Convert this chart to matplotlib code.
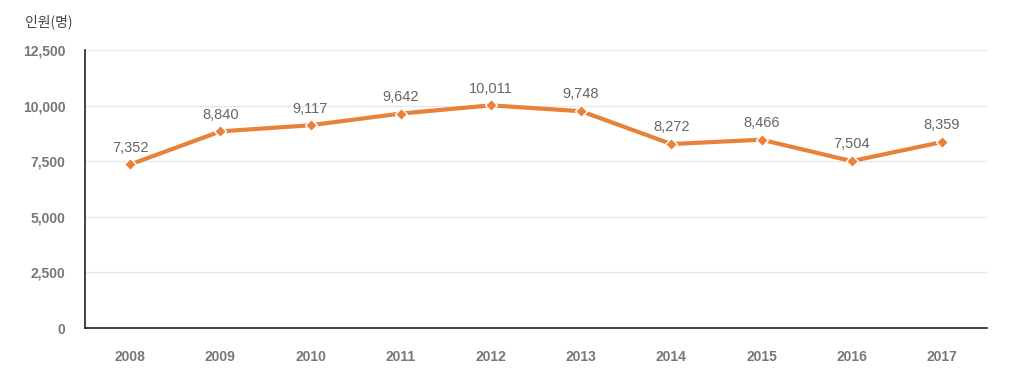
import matplotlib
matplotlib.use('Agg')
import matplotlib.pyplot as plt
from matplotlib.ticker import FuncFormatter

years = ['2008', '2009', '2010', '2011', '2012', '2013', '2014', '2015', '2016', '2017']
persons = [7352, 8840, 9117, 9642, 10011, 9748, 8272, 8466, 7504, 8359]
yticks = [0, 2500, 5000, 7500, 10000, 12500]

plt.rcParams['font.family'] = ['Liberation Sans', 'Noto Sans CJK KR', 'DejaVu Sans']

fig = plt.figure(figsize=(10.14, 3.79), dpi=100)
ax = fig.add_axes([85/1014, 51/379, 902/1014, 278/379])

x = list(range(len(years)))
ax.plot(x, persons, color='#E8823A', linewidth=3, marker='D', markersize=6.5,
        markerfacecolor='#E8823A', markeredgecolor='white', markeredgewidth=1, zorder=3)

for xi, v in zip(x, persons):
    ax.annotate(f'{v:,}', (xi, v), xytext=(0, 7), textcoords='offset points',
                ha='center', va='bottom', fontsize=10.5, color='#666666')

ax.set_xlim(-0.5, len(years) - 0.5)
ax.set_ylim(0, 12500)
ax.set_yticks(yticks)
ax.yaxis.set_major_formatter(FuncFormatter(lambda v, p: f'{int(v):,}'))
ax.set_xticks(x)
ax.set_xticklabels(years)
ax.tick_params(length=0, labelsize=10, labelcolor='#777777')
ax.tick_params(axis='y', pad=14)
ax.tick_params(axis='x', pad=16)
for lab in ax.get_xticklabels() + ax.get_yticklabels():
    lab.set_fontweight('bold')

ax.grid(axis='y', color='#e8e8e8', linewidth=1)
ax.set_axisbelow(True)
for s in ['top', 'right']:
    ax.spines[s].set_visible(False)
ax.spines['left'].set_color('#222222')
ax.spines['bottom'].set_color('#222222')
ax.spines['left'].set_linewidth(1.2)
ax.spines['bottom'].set_linewidth(1.2)

fig.text(25/1014, 1 - 22/379, '인원(명)', fontsize=10, color='#444444', va='center', ha='left',
         family=['Noto Sans CJK KR', 'DejaVu Sans'])

fig.savefig('out.png', dpi=100)
